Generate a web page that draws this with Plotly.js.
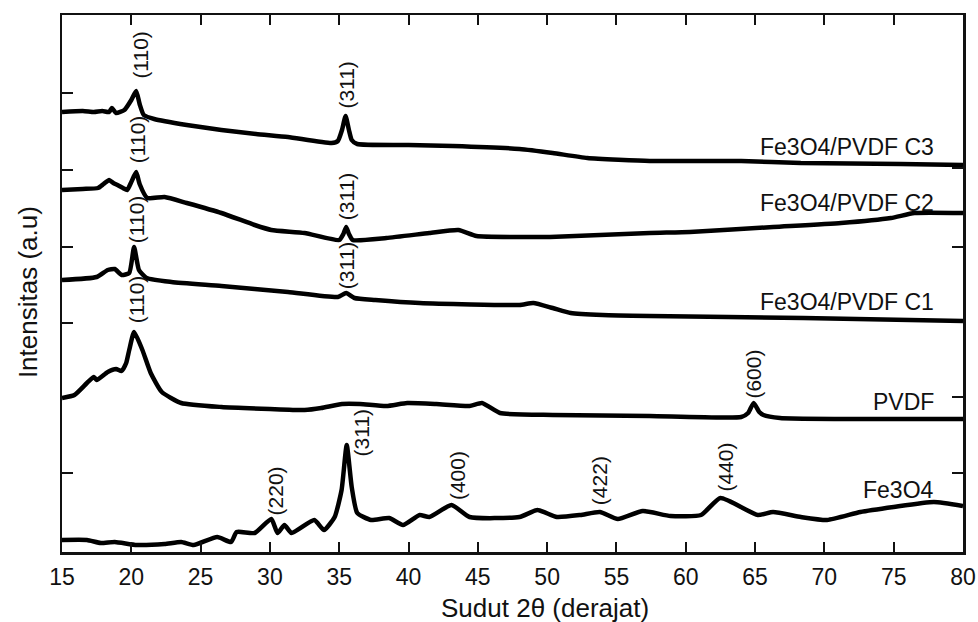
<!DOCTYPE html>
<html>
<head>
<meta charset="utf-8">
<script src="https://cdn.plot.ly/plotly-3.0.1.min.js"></script>
<style>html,body{margin:0;padding:0;background:#fff;}#chart{width:978px;height:622px;}</style>
</head>
<body>
<div id="chart"></div>
<script>
// ---- Data (2θ in degrees, intensity in arbitrary stacked units) ----
const c3X = [15, 16.5, 17.3, 17.9, 18.4, 18.6, 18.9, 19.5, 20.0, 20.35, 20.6, 20.9, 21.65, 24, 26.5, 29, 31.3, 34.45, 34.9, 35.2, 35.46, 35.7, 35.9, 36.3, 40, 43.2, 48, 50.4, 52.9, 57.4, 60, 64, 68.3, 75.5, 80];
const c3Y = [440, 441, 440, 441, 440, 444, 439, 442, 452, 461, 448, 437, 433, 427, 422, 418, 415, 409, 411, 422, 436, 422, 412, 408, 407, 406, 403, 399, 394, 391, 391, 391, 389, 388, 387];

const c2X = [15, 16.5, 17.6, 18.0, 18.4, 18.7, 19.0, 19.4, 19.7, 20.0, 20.35, 20.6, 21.15, 22.4, 24.0, 26.5, 28.9, 30.1, 32.5, 35.0, 35.3, 35.5, 35.7, 35.97, 38.4, 41.5, 43.6, 44.9, 48, 50.2, 57.4, 60.3, 66.3, 71.2, 74.8, 76.5, 80];
const c2Y = [362, 363, 364, 368, 372, 369, 367, 364, 362, 370, 380, 368, 354, 355, 349, 339, 327, 322, 319, 312, 318, 325, 318, 312, 314, 319, 322, 316, 315, 315, 319, 320, 325, 329, 334, 339, 339];

const c1X = [15, 17.5, 18.3, 18.8, 19.3, 19.85, 20.2, 20.55, 21.1, 22.9, 26.5, 31.3, 34.9, 35.5, 36.1, 37.6, 40.8, 48.0, 49.0, 50.4, 51.7, 54.0, 57.4, 68.5, 80];
const c1Y = [272, 275, 282, 283, 277, 279, 305, 282, 274, 270, 266, 260, 255, 259, 254, 252, 249, 247, 249, 244, 239, 237, 236, 234, 231];

const pvdfX = [15, 15.9, 16.8, 17.3, 17.5, 18.3, 18.9, 19.3, 19.63, 19.85, 20.2, 20.8, 21.4, 22.2, 23.6, 26.5, 30, 32.5, 33.7, 35.2, 36.5, 38.4, 39.9, 42, 44.4, 45.3, 46.6, 50.4, 57.4, 64.0, 64.5, 64.9, 65.3, 65.6, 66.8, 80];
const pvdfY = [154, 157, 169, 175, 172, 180, 183, 181, 189, 202, 220, 202, 179, 160, 149, 145, 143, 142, 144, 148, 148, 146, 149, 148, 146, 149, 139, 137, 136, 135, 139, 149, 140, 137, 134, 133];

const fe3o4X = [15, 16.8, 17.8, 18.8, 20.4, 22.4, 23.6, 24.5, 26.2, 27.2, 27.6, 28.9, 30.1, 30.55, 31.05, 31.56, 33.2, 33.9, 34.67, 35.17, 35.54, 35.9, 36.3, 37.3, 38.6, 39.6, 40.8, 41.5, 43.1, 44.4, 48, 49.3, 50.7, 52.4, 53.8, 55.1, 56.9, 58.9, 61.1, 62.5, 65.2, 66.3, 68.3, 70.2, 72.6, 75.0, 77.9, 80];
const fe3o4Y = [12, 12, 9, 10, 7, 8, 10, 7, 15, 10, 20, 19, 33, 19, 27, 19, 32, 22, 35, 62, 107, 65, 39, 32, 34, 27, 37, 35, 47, 35, 35, 42, 35, 37, 40, 33, 41, 36, 37, 54, 37, 40, 35, 32, 40, 45, 50, 46];

const seriesNames = ["Fe3O4/PVDF C3", "Fe3O4/PVDF C2", "Fe3O4/PVDF C1", "PVDF", "Fe3O4"];
const seriesLabelX = [78.05, 78.05, 78.05, 78.05, 78.05];
const seriesLabelY = [405, 349, 250, 150, 62];

const peakText = ["(110)", "(311)", "(110)", "(311)", "(110)", "(311)", "(110)", "(600)", "(220)", "(311)", "(400)", "(422)", "(440)"];
const peakX = [20.6, 35.46, 20.42, 35.5, 20.35, 35.5, 20.35, 64.82, 30.4, 36.6, 43.5, 53.75, 62.8];
const peakY = [497, 467, 412, 355, 332, 286, 252, 178, 61, 119, 76, 71, 85];

const xTicks = [15, 20, 25, 30, 35, 40, 45, 50, 55, 60, 65, 70, 75, 80];
const yTicksLeft = [459, 382, 305, 229, 79];
const yTicksRight = [384, 305, 155, 79];

// ---- Plot ----
const FONT = "Arial, 'Liberation Sans', Helvetica, sans-serif";
const seriesX = [c3X, c2X, c1X, pvdfX, fe3o4X];
const seriesY = [c3Y, c2Y, c1Y, pvdfY, fe3o4Y];

const traces = seriesX.map((xs, i) => ({
  type: 'scatter', mode: 'lines', x: xs, y: seriesY[i], name: seriesNames[i],
  line: {color: '#000', width: 4.5, shape: 'spline', smoothing: 0.5},
  hoverinfo: 'skip', showlegend: false
}));
traces.push({type: 'scatter', mode: 'lines', x: [], y: [], yaxis: 'y2', showlegend: false, hoverinfo: 'skip'});

const annotations = [];
seriesNames.forEach((n, i) => annotations.push({
  x: seriesLabelX[i], y: seriesLabelY[i], xref: 'x', yref: 'y', text: n, showarrow: false,
  xanchor: 'right', yanchor: 'middle', font: {family: FONT, size: 23, color: '#111'}
}));
peakText.forEach((t, i) => annotations.push({
  x: peakX[i], y: peakY[i], xref: 'x', yref: 'y', text: t, showarrow: false, textangle: -90,
  xanchor: 'center', yanchor: 'middle', font: {family: FONT, size: 21, color: '#111'}
}));
annotations.push({
  x: 0.536, y: -0.104, xref: 'paper', yref: 'paper', text: 'Sudut 2θ (derajat)', showarrow: false,
  xanchor: 'center', yanchor: 'middle', font: {family: FONT, size: 26, color: '#111'}
});
annotations.push({
  x: -0.0377, y: 0.484, xref: 'paper', yref: 'paper', text: 'Intensitas (a.u)', showarrow: false,
  textangle: -90, xanchor: 'center', yanchor: 'middle', font: {family: FONT, size: 26, color: '#111'}
});

const layout = {
  width: 978, height: 622,
  margin: {l: 62, r: 15, t: 15, b: 70},
  paper_bgcolor: '#fff', plot_bgcolor: '#fff',
  font: {family: FONT, color: '#111'},
  showlegend: false,
  xaxis: {
    range: [15, 80], tickvals: xTicks, ticktext: xTicks.map(String),
    ticks: 'inside', ticklen: 10, tickwidth: 2, tickcolor: '#111', ticklabelstandoff: 3,
    showline: true, linewidth: 2.5, linecolor: '#111', mirror: 'ticks',
    showgrid: false, zeroline: false, tickfont: {family: FONT, size: 23, color: '#111'}
  },
  yaxis: {
    range: [0, 537], tickvals: yTicksLeft, showticklabels: false,
    ticks: 'inside', ticklen: 11, tickwidth: 2, tickcolor: '#111',
    showline: true, linewidth: 2.5, linecolor: '#111', mirror: true,
    showgrid: false, zeroline: false
  },
  yaxis2: {
    range: [0, 537], overlaying: 'y', side: 'right', tickvals: yTicksRight, showticklabels: false,
    ticks: 'inside', ticklen: 11, tickwidth: 2, tickcolor: '#111',
    showline: false, showgrid: false, zeroline: false
  },
  annotations: annotations
};

Plotly.newPlot('chart', traces, layout, {staticPlot: true, displayModeBar: false});
</script>
</body>
</html>
